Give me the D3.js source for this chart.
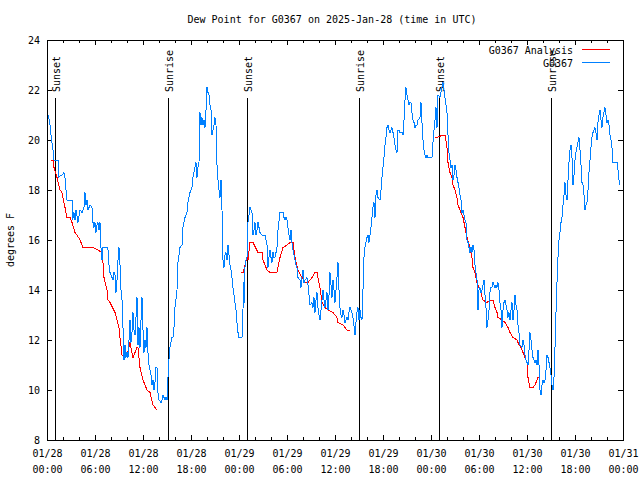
<!DOCTYPE html>
<html>
<head>
<meta charset="utf-8">
<script src="https://cdn.jsdelivr.net/npm/d3@7"></script>
<style>
  html, body { margin: 0; padding: 0; background: #fff; }
  svg text { font-family: "DejaVu Sans Mono", "Liberation Mono", monospace; font-size: 10px; fill: #000; }
</style>
</head>
<body>
<svg id="chart" width="640" height="480"></svg>
<script>
// ---- DATA (hours since 2025-01-28 00:00 UTC) ----
const titleText = "Dew Point for G0367 on 2025-Jan-28 (time in UTC)";
const yLabel = "degrees F";
const yTicks = [8, 10, 12, 14, 16, 18, 20, 22, 24];
const seriesNames = ["G0367 Analysis", "G0367"];

const sunHours = [1.0, 15.125, 25.0, 39.0, 49.0, 63.0];
const sunLabels = ["Sunset", "Sunrise", "Sunset", "Sunrise", "Sunset", "Sunrise"];

const blueHours = [
0.16,0.375,0.5,0.625,0.75,0.81,0.875,1.375,1.44,1.75,1.875,2.125,2.25,2.375,2.5,3.125,3.19,3.375,3.5,3.625,3.875,4.125,4.375,4.625,4.75,4.875,5.0,5.125,5.375,5.625,5.75,5.875,6.0,6.125,6.25,6.375,6.5,6.625,6.75,6.875,7.0,7.5,7.625,7.75,7.875,8.125,8.25,8.375,8.5,8.625,8.75,8.875,9.0,9.125,9.25,9.375,9.5,9.625,9.75,9.875,10.0,10.125,10.25,10.375,10.5,10.625,10.75,10.875,11.0,11.125,11.25,11.375,11.5,11.625,11.75,11.875,12.0,12.125,12.25,12.375,12.5,12.625,12.75,12.875,13.0,13.125,13.25,13.375,13.5,13.625,13.75,13.875,14.0,14.25,14.375,14.5,14.75,14.875,15.0,15.125,15.19,15.375,15.625,15.75,15.875,16.0,16.25,16.375,16.625,16.875,17.0,17.25,17.5,17.625,17.875,18.125,18.25,18.5,18.625,18.75,18.875,19.0,19.125,19.25,19.375,19.5,19.625,19.75,19.875,20.0,20.125,20.25,20.375,20.5,20.625,20.75,20.875,21.0,21.125,21.25,21.375,21.5,21.625,21.75,21.875,22.0,22.125,22.25,22.375,22.5,22.625,22.75,22.875,23.0,23.125,23.25,23.375,23.5,23.625,23.75,23.875,24.0,24.375,24.5,24.56,24.625,24.69,24.75,24.875,25.0,25.06,25.125,25.375,25.5,25.625,25.75,25.875,26.0,26.125,26.25,26.375,26.5,26.625,26.875,27.25,27.5,27.625,27.75,27.875,28.0,28.125,28.25,28.375,28.5,28.625,28.75,28.875,29.125,29.5,29.625,29.75,29.875,30.0,30.125,30.25,30.375,30.5,30.625,30.75,30.875,31.0,31.125,31.25,31.375,31.625,31.75,31.875,32.0,32.125,32.25,32.5,32.625,32.75,32.875,33.125,33.25,33.375,33.5,33.625,33.75,33.875,34.0,34.125,34.25,34.375,34.5,34.625,34.75,34.875,35.0,35.125,35.25,35.375,35.5,35.625,35.75,35.875,36.0,36.125,36.25,36.375,36.5,36.625,36.75,36.875,37.0,37.125,37.25,37.375,37.5,37.625,37.75,37.875,38.0,38.125,38.25,38.5,38.625,38.75,38.875,39.0,39.125,39.25,39.375,39.5,39.56,39.625,39.75,40.0,40.125,40.25,40.5,40.625,40.75,40.875,41.0,41.125,41.25,41.375,41.625,41.75,41.875,42.0,42.125,42.25,42.375,42.5,42.625,42.75,42.875,43.0,43.125,43.25,43.375,43.5,43.625,43.75,43.875,44.0,44.125,44.375,44.5,44.625,44.75,44.875,45.0,45.125,45.25,45.375,45.5,45.625,45.75,45.875,46.0,46.125,46.25,46.375,46.625,46.75,46.875,47.0,47.125,47.25,47.375,47.5,47.625,47.875,48.125,48.25,48.375,48.5,48.625,48.75,48.875,49.125,49.375,49.5,49.625,49.75,49.875,50.0,50.125,50.25,50.375,50.5,50.625,50.75,50.875,51.0,51.125,51.25,51.375,51.5,51.625,51.75,51.875,52.0,52.125,52.25,52.375,52.5,52.625,52.75,52.875,53.0,53.125,53.25,53.375,53.5,53.625,53.75,53.875,54.0,54.125,54.25,54.375,54.5,54.625,54.75,54.875,55.0,55.125,55.25,55.375,55.5,55.625,55.75,55.875,56.0,56.125,56.25,56.375,56.5,56.625,56.75,56.875,57.0,57.125,57.25,57.375,57.5,57.625,57.75,57.875,58.0,58.125,58.25,58.375,58.5,58.625,58.75,58.875,59.0,59.125,59.375,59.5,59.625,59.75,59.875,60.0,60.125,60.25,60.375,60.5,60.625,60.75,60.875,61.0,61.125,61.25,61.375,61.5,61.625,61.75,61.875,62.0,62.125,62.25,62.375,62.5,62.625,62.75,62.875,63.0,63.125,63.25,63.375,63.5,63.625,63.75,63.875,64.0,64.125,64.25,64.375,64.5,64.625,64.75,64.875,65.0,65.125,65.25,65.375,65.5,65.625,65.75,65.875,66.0,66.125,66.25,66.375,66.5,66.625,66.75,66.875,67.0,67.125,67.25,67.375,67.5,67.625,67.75,67.875,68.0,68.125,68.25,68.375,68.5,68.625,68.75,68.875,69.0,69.125,69.25,69.375,69.5,69.625,69.75,69.875,70.0,70.125,70.25,70.375,70.5,70.625,70.75,71.0,71.25,71.375,71.5,71.625
];
const blueValues = [
21.0,20.6,20.2,19.9,19.6,19.5,19.2,19.2,18.5,18.6,18.6,18.7,18.5,18.0,17.6,17.6,16.8,17.1,16.8,17.2,16.7,17.2,17.1,17.3,17.9,17.4,17.6,17.2,17.4,17.3,16.7,16.5,16.7,16.3,16.6,16.7,16.4,16.7,15.7,15.2,15.7,15.7,15.6,15.0,14.7,14.5,14.4,14.7,14.6,13.9,14.4,15.2,15.7,15.0,14.0,13.6,12.5,11.2,11.8,11.3,11.5,11.3,12.0,12.8,11.9,12.3,13.1,12.4,12.2,12.9,13.7,11.8,12.5,11.7,12.8,13.7,12.4,11.5,12.0,11.7,12.5,11.5,11.0,10.8,10.6,10.2,10.4,10.0,10.3,10.9,10.9,9.9,9.6,9.5,9.6,9.8,9.6,9.7,9.6,10.5,11.0,11.7,12.1,12.1,12.5,13.3,14.0,15.1,15.7,15.8,16.5,16.9,17.1,17.5,17.9,18.1,18.5,18.9,19.1,18.5,18.9,19.1,21.1,20.6,20.9,20.6,20.8,20.5,21.2,22.1,21.9,21.8,21.4,21.2,20.2,20.4,20.6,20.9,20.6,19.0,18.4,18.0,17.7,18.4,17.2,15.2,14.9,15.4,15.5,15.2,15.8,15.4,15.0,14.8,14.5,14.1,13.8,13.5,13.2,12.7,12.3,12.1,12.1,13.2,14.3,13.4,14.7,14.9,15.2,15.3,16.0,16.7,17.3,17.2,17.1,16.2,16.4,16.7,16.2,16.4,16.7,16.5,16.3,16.2,16.2,15.8,14.9,15.3,15.6,15.3,15.1,15.5,15.3,15.3,15.5,15.7,16.4,17.1,17.1,16.9,16.8,16.9,16.8,16.5,16.2,16.0,16.4,15.9,15.6,15.4,15.2,15.0,14.9,14.5,14.4,14.1,14.5,14.8,14.3,14.4,14.5,14.2,13.8,13.4,13.5,13.3,13.7,13.1,13.6,13.9,13.3,13.0,12.8,13.2,13.6,14.0,13.6,13.3,13.6,13.9,13.2,13.8,14.7,14.2,13.7,14.4,14.0,13.5,14.0,14.5,15.1,14.0,13.3,13.0,12.9,13.2,13.0,12.7,12.8,12.9,12.8,13.1,13.3,13.2,13.1,12.9,12.2,12.7,13.1,13.3,12.8,13.2,12.9,12.8,14.0,14.7,15.3,15.7,16.1,16.2,15.9,16.5,16.9,17.3,17.5,16.9,17.8,18.0,17.7,17.6,18.0,18.5,18.9,19.3,19.8,20.1,20.5,20.6,20.4,20.3,20.4,20.5,20.3,20.1,19.8,19.6,19.5,20.4,20.4,20.3,20.3,20.2,20.8,21.6,22.1,21.8,21.6,21.4,21.5,21.5,21.1,20.8,20.7,20.5,20.6,20.6,20.8,20.9,21.5,20.7,20.0,19.6,19.4,19.3,19.4,19.3,19.3,19.3,19.9,20.4,20.8,21.3,20.5,21.8,21.7,22.1,22.3,22.0,21.7,21.4,21.1,20.2,19.5,19.2,18.9,19.0,18.4,18.6,19.0,18.8,18.5,18.3,18.1,17.8,17.6,17.1,17.2,17.0,16.8,16.7,16.0,15.9,15.7,15.5,15.7,15.5,15.8,15.6,15.0,14.7,14.4,13.2,14.0,14.1,13.9,14.0,14.2,14.4,13.8,13.3,12.5,12.8,13.2,13.9,14.1,14.1,14.3,14.2,14.1,14.2,14.1,14.3,14.0,13.5,13.2,12.5,13.2,13.5,13.6,13.4,13.2,12.9,13.1,12.8,13.2,13.5,12.8,13.2,13.8,13.4,13.2,12.6,12.3,11.8,11.7,12.0,11.8,11.4,11.2,11.1,11.0,11.6,12.3,12.0,11.6,11.3,11.2,11.1,11.2,11.0,11.6,11.0,10.0,9.8,10.2,10.4,10.3,10.4,10.8,11.4,11.3,11.1,10.9,10.6,10.2,10.0,10.5,11.7,13.1,14.3,15.3,16.0,16.3,16.7,16.9,17.4,17.8,18.3,17.8,17.6,18.4,19.1,19.6,19.8,19.3,18.2,18.6,19.2,19.5,19.7,19.9,20.1,19.6,19.0,18.3,18.2,17.8,17.2,17.4,17.5,18.0,18.7,19.2,19.7,20.1,20.3,20.4,20.5,20.3,20.0,20.7,21.0,21.2,20.8,20.5,20.9,21.1,21.3,21.0,20.7,20.8,20.6,20.2,20.0,19.7,19.1,19.1,19.1,18.8,18.4,18.2
];

// Analysis series: null marks gaps between nightly runs
const redHours = [
0.5,0.75,0.875,1.25,1.625,1.875,2.25,2.5,2.875,3.125,3.5,3.75,4.125,4.5,5.75,6.375,6.875,7.0,7.125,7.5,7.625,7.875,8.5,8.75,9.0,9.125,9.375,10.0,10.375,10.75,11.25,11.375,11.625,12.0,12.5,12.875,13.25,13.75,
19.0,
24.25,24.5,25.0,25.125,25.375,25.75,26.375,26.875,27.0,27.5,27.875,28.75,29.125,29.5,30.0,30.375,30.75,31.0,31.375,31.875,32.25,32.625,33.125,33.5,33.75,34.125,34.375,34.75,35.125,35.75,36.25,36.375,37.0,37.5,37.875,
43.0,
48.5,48.75,49.5,49.75,50.0,50.125,50.375,50.625,50.75,51.0,51.25,51.375,51.625,52.0,52.5,52.875,53.125,53.25,53.5,53.75,54.125,54.5,55.0,55.375,55.75,56.0,56.25,56.375,56.875,57.25,57.625,57.875,58.25,58.75,58.875,59.375,59.5,60.0,60.125,60.375,60.75,61.0,61.375,61.625
];
const redValues = [
19.2,19.2,18.9,18.5,18.0,17.9,17.3,16.9,16.9,16.7,16.3,16.2,16.0,15.7,15.7,15.6,15.5,15.1,14.5,14.0,13.6,13.5,13.1,12.8,12.5,12.1,11.4,11.4,11.9,11.3,11.7,11.7,10.9,10.4,10.0,9.9,9.4,9.2,
null,
14.7,14.7,15.3,15.2,15.9,15.9,15.5,15.5,15.2,14.8,14.7,14.7,15.3,15.7,15.8,15.9,15.9,15.3,14.8,14.5,14.3,14.3,14.5,14.7,14.7,14.1,13.5,13.3,13.2,13.1,12.9,12.7,12.6,12.4,12.4,
null,
20.1,20.1,20.2,20.2,19.7,19.1,18.7,18.5,18.2,18.0,17.7,17.4,17.2,16.9,16.1,15.7,15.3,14.9,14.7,14.3,14.0,13.6,13.5,13.6,13.6,13.3,13.1,12.9,12.8,12.7,12.5,12.3,12.1,12.0,11.9,11.6,11.5,11.1,10.5,10.1,10.1,10.2,10.5,10.5
];

// ---- CHART ----
const svg = d3.select("#chart");
const W = 640, H = 480;
const m = { left: 47, right: 17, top: 40, bottom: 40 };
const t0 = Date.UTC(2025, 0, 28);
const hourMs = 3600 * 1000;
const toDate = h => new Date(t0 + h * hourMs);

const x = d3.scaleUtc().domain([toDate(0), toDate(72)]).range([m.left, W - m.right]);
const y = d3.scaleLinear().domain([8, 24]).range([H - m.bottom, m.top]);

svg.append("rect").attr("width", W).attr("height", H).attr("fill", "#fff");

// title
svg.append("text").attr("x", 332).attr("y", 23).attr("text-anchor", "middle").text(titleText);

// y label
svg.append("text").attr("transform", "translate(14,240) rotate(-90)")
  .attr("text-anchor", "middle").text(yLabel);

const majorX = d3.utcHour.every(6).range(toDate(0), toDate(72.01));
const minorX = d3.utcHour.every(2).range(toDate(0), toDate(72.01));

function axisStyle(g) {
  g.select(".domain").remove();
  g.selectAll("line").attr("stroke", "#000").attr("shape-rendering", "crispEdges");
}

// minor ticks (bottom & top)
svg.append("g").attr("transform", `translate(0,${H - m.bottom})`)
  .call(d3.axisBottom(x).tickValues(minorX).tickSizeInner(-3).tickSizeOuter(0).tickFormat(() => ""))
  .call(axisStyle);
svg.append("g").attr("transform", `translate(0,${m.top})`)
  .call(d3.axisTop(x).tickValues(minorX).tickSizeInner(-3).tickSizeOuter(0).tickFormat(() => ""))
  .call(axisStyle);

// major ticks
const xb = svg.append("g").attr("transform", `translate(0,${H - m.bottom})`)
  .call(d3.axisBottom(x).tickValues(majorX).tickSizeInner(-5).tickSizeOuter(0).tickFormat(() => ""))
  .call(axisStyle);
svg.append("g").attr("transform", `translate(0,${m.top})`)
  .call(d3.axisTop(x).tickValues(majorX).tickSizeInner(-5).tickSizeOuter(0).tickFormat(() => ""))
  .call(axisStyle);

const fmtDate = d3.utcFormat("%m/%d");
const fmtTime = d3.utcFormat("%H:%M");
xb.selectAll(".tick text").remove();
xb.selectAll(".tick").each(function(d) {
  const t = d3.select(this).append("text").attr("text-anchor", "middle").attr("fill", "#000");
  t.append("tspan").attr("x", 0).attr("y", 17).text(fmtDate(d));
  t.append("tspan").attr("x", 0).attr("y", 33).text(fmtTime(d));
});

// y axis
const yl = svg.append("g").attr("transform", `translate(${m.left},0)`)
  .call(d3.axisLeft(y).tickValues(yTicks).tickSizeInner(-5).tickSizeOuter(0).tickPadding(7).tickFormat(d3.format("d")))
  .call(axisStyle);
yl.selectAll(".tick text").attr("fill", "#000").attr("dy", "0.35em")
  .style("font-family", '"DejaVu Sans Mono", monospace').style("font-size", "10px");
svg.append("g").attr("transform", `translate(${W - m.right},0)`)
  .call(d3.axisRight(y).tickValues(yTicks).tickSizeInner(-5).tickSizeOuter(0).tickFormat(() => ""))
  .call(axisStyle);
xb.selectAll("text").style("font-family", '"DejaVu Sans Mono", monospace').style("font-size", "10px");

// border
svg.append("rect").attr("x", m.left).attr("y", m.top)
  .attr("width", W - m.left - m.right).attr("height", H - m.top - m.bottom)
  .attr("fill", "none").attr("stroke", "#000").attr("shape-rendering", "crispEdges");

// sunrise / sunset lines
sunHours.forEach((h, i) => {
  const xp = Math.round(x(toDate(h))) + 0.5;
  svg.append("line").attr("x1", xp).attr("x2", xp).attr("y1", 98).attr("y2", H - m.bottom)
    .attr("stroke", "#000").attr("stroke-width", 1).attr("shape-rendering", "crispEdges");
  svg.append("text").attr("transform", `translate(${xp + 4},92) rotate(-90)`)
    .attr("text-anchor", "start").text(sunLabels[i]);
});

// data
const blue = blueHours.map((h, i) => ({ t: toDate(h), v: blueValues[i] }));
const red = redHours.map((h, i) => ({ t: toDate(h), v: redValues[i] }));
const line = d3.line().defined(d => d.v != null).x(d => x(d.t)).y(d => y(d.v));

svg.append("path").datum(red).attr("d", line)
  .attr("fill", "none").attr("stroke", "#ff0000").attr("stroke-width", 1)
  .attr("shape-rendering", "crispEdges");
svg.append("path").datum(blue).attr("d", line)
  .attr("fill", "none").attr("stroke", "#0080ff").attr("stroke-width", 1)
  .attr("shape-rendering", "crispEdges");

// legend
const legColors = ["#ff0000", "#0080ff"];
seriesNames.forEach((n, i) => {
  const ly = 50 + i * 13;
  svg.append("text").attr("x", 573).attr("y", ly + 3.5).attr("text-anchor", "end").text(n);
  svg.append("line").attr("x1", 582).attr("x2", 610).attr("y1", ly - 0.5).attr("y2", ly - 0.5)
    .attr("stroke", legColors[i]).attr("stroke-width", 1).attr("shape-rendering", "crispEdges");
});
</script>
</body>
</html>
